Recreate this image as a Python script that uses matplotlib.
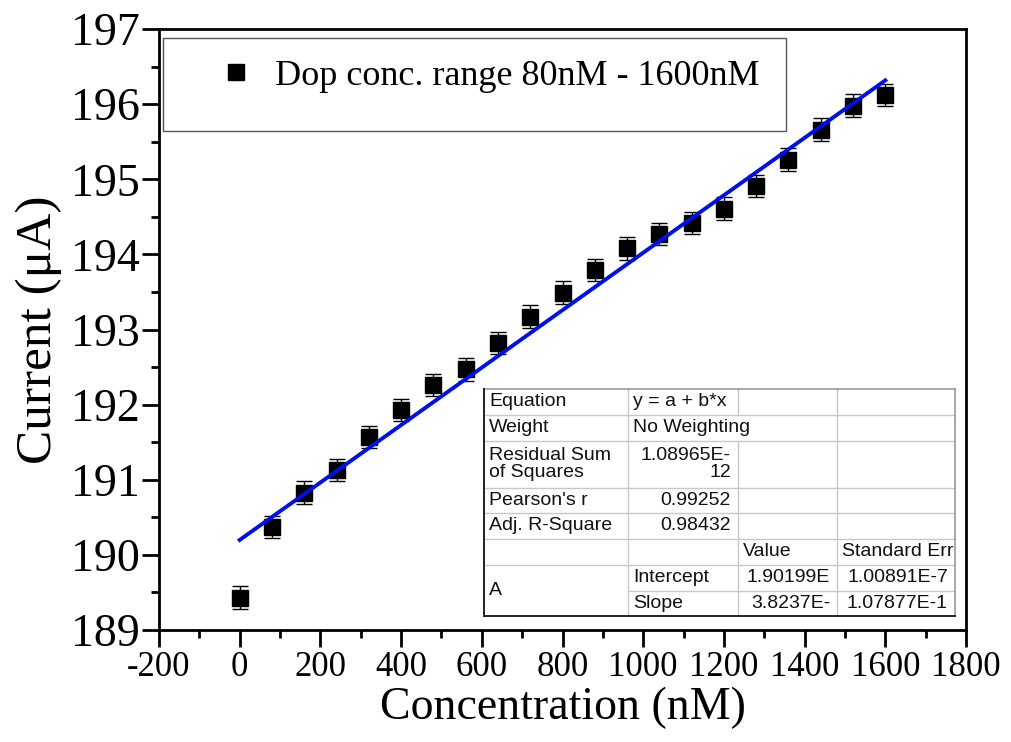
import numpy as np
import matplotlib
matplotlib.use("Agg")
import matplotlib.pyplot as plt
from matplotlib.patches import Rectangle
from matplotlib.lines import Line2D
from matplotlib.ticker import MultipleLocator

# dados
conc = [0, 80, 160, 240, 320, 400, 480, 560, 640, 720, 800, 880, 960,
        1040, 1120, 1200, 1280, 1360, 1440, 1520, 1600]
current = [189.43, 190.37, 190.83, 191.13, 191.57, 191.93, 192.26, 192.47,
           192.82, 193.17, 193.49, 193.79, 194.08, 194.27, 194.42, 194.61,
           194.91, 195.26, 195.66, 195.98, 196.12]
err = [0.15] * len(conc)

intercept = 190.199
slope = 0.0038237

table_rows = [
    ["Equation", "y = a + b*x", "", ""],
    ["Weight", "No Weighting", "", ""],
    ["Residual Sum\nof Squares", "1.08965E-\n12", "", ""],
    ["Pearson's r", "0.99252", "", ""],
    ["Adj. R-Square", "0.98432", "", ""],
    ["", "", "Value", "Standard Err"],
    ["A", "Intercept", "1.90199E", "1.00891E-7"],
    ["", "Slope", "3.8237E-", "1.07877E-1"],
]

plt.rcParams['font.family'] = ['Liberation Serif', 'DejaVu Serif']
plt.rcParams['axes.unicode_minus'] = False

fig = plt.figure(figsize=(10.12, 7.42), dpi=100)
ax = fig.add_axes([0.1571, 0.1509, 0.7975, 0.81])

ax.errorbar(conc, current, yerr=err, fmt='s', color='black', ms=11,
            ecolor='black', elinewidth=1.0, capsize=6, capthick=1.0, zorder=3)

xf = np.array([0, 1600])
ax.plot(xf, intercept + slope * xf, color='#0010e8', lw=2.8, zorder=4)

ax.set_xlim(-200, 1800)
ax.set_ylim(189, 197)
ax.xaxis.set_major_locator(MultipleLocator(200))
ax.xaxis.set_minor_locator(MultipleLocator(100))
ax.yaxis.set_major_locator(MultipleLocator(1))
ax.yaxis.set_minor_locator(MultipleLocator(0.5))
ax.tick_params(which='major', direction='out', length=12, width=2)
ax.tick_params(which='minor', direction='out', length=6, width=2)
ax.tick_params(axis='x', labelsize=25, pad=3)
ax.tick_params(axis='y', labelsize=33, pad=2)
for s in ax.spines.values():
    s.set_linewidth(2)

ax.set_xlabel('Concentration (nM)', fontsize=33, labelpad=2)
ax.set_ylabel('Current (μA)', fontsize=37, labelpad=6)

# caixa da legenda (estilo Origin)
ax.add_patch(Rectangle((0.005, 0.83), 0.772, 0.155, transform=ax.transAxes,
                       fill=False, edgecolor='#555555', lw=1.0, zorder=5))
h = Line2D([], [], marker='s', ls='none', color='black', ms=11)
ax.legend([h], ['Dop conc. range 80nM - 1600nM'], loc='upper left',
          bbox_to_anchor=(0.024, 0.985), frameon=False, fontsize=26,
          handletextpad=0.08, borderaxespad=0.2)

# tabela do ajuste
col_x = [484, 628, 738, 837, 955]
row_y = [389, 415, 441, 488, 513, 539, 565, 591, 616]
H = 742.0
W = 1012.0

def fx(px):
    return px / W

def fy(py):
    return 1 - py / H

fig.patches.append(Rectangle((fx(col_x[0]), fy(row_y[-1])),
                             fx(col_x[-1]) - fx(col_x[0]),
                             fy(row_y[0]) - fy(row_y[-1]),
                             transform=fig.transFigure, facecolor='white',
                             edgecolor='none', zorder=1))
grid_c = '#c8c8c8'
for i, yy in enumerate(row_y[1:-1], start=1):
    x0 = col_x[1] if i == 7 else col_x[0]
    fig.add_artist(Line2D([fx(x0), fx(col_x[-1])], [fy(yy), fy(yy)],
                          color=grid_c, lw=1.0))
for j, xx in enumerate(col_x[1:-1], start=1):
    if j == 2:
        segs = [(row_y[0], row_y[1]), (row_y[2], row_y[-1])]
    else:
        segs = [(row_y[0], row_y[-1])]
    for a, b in segs:
        fig.add_artist(Line2D([fx(xx), fx(xx)], [fy(a), fy(b)],
                              color=grid_c, lw=1.0))
# bordas
fig.add_artist(Line2D([fx(col_x[0]), fx(col_x[-1])], [fy(row_y[0])] * 2, color='#999999', lw=1.2))
fig.add_artist(Line2D([fx(col_x[-1])] * 2, [fy(row_y[0]), fy(row_y[-1])], color='#999999', lw=1.2))
fig.add_artist(Line2D([fx(col_x[0])] * 2, [fy(row_y[0]), fy(row_y[-1])], color='#222222', lw=1.4))
fig.add_artist(Line2D([fx(col_x[0]), fx(col_x[-1])], [fy(row_y[-1])] * 2, color='#222222', lw=1.4))

tfont = dict(family=['Liberation Sans', 'DejaVu Sans'], fontsize=14, color='#111111')
for i, row in enumerate(table_rows):
    yc = (row_y[i] + row_y[i + 1]) / 2
    for j, txt in enumerate(row):
        if not txt:
            continue
        y_here = yc
        if i == 6 and j == 0:
            y_here = (row_y[6] + row_y[8]) / 2
        numeric = txt[0].isdigit() or (i == 2 and j == 1)
        if numeric:
            xr = col_x[j + 1] - 7
            fig.text(fx(xr), fy(y_here), txt, ha='right', va='center',
                     linespacing=1.0, **tfont)
        else:
            fig.text(fx(col_x[j] + 5), fy(y_here), txt, ha='left', va='center',
                     linespacing=1.0, **tfont)

fig.savefig('out.png', dpi=100)
